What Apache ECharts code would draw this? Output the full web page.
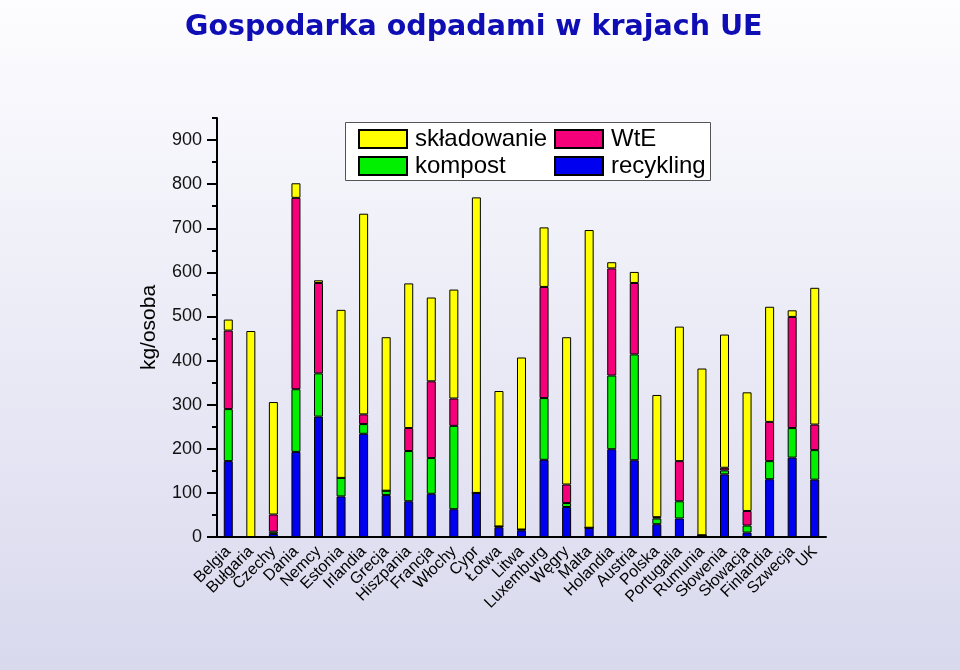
<!DOCTYPE html>
<html><head><meta charset="utf-8">
<script src="https://cdn.jsdelivr.net/npm/echarts@6/dist/echarts.min.js"></script>
<style>html,body{margin:0;padding:0;}#c{width:960px;height:670px;}</style>
</head><body><div id="c"></div>
<script>
var categories = ['Belgia','Bułgaria','Czechy','Dania','Nemcy','Estonia','Irlandia','Grecja','Hiszpania','Francja','Włochy','Cypr','Łotwa','Litwa','Luxemburg','Węgry','Malta','Holandia','Austria','Polska','Portugalia','Rumunia','Słowenia','Słowacja','Finlandia','Szwecja','UK'];
var recykling   = [172,0,7,193,273,92,234,95,81,98,63,100,22,15,175,68,21,199,174,29,42,4,142,10,131,180,130];
var kompost     = [118,0,5,142,98,42,22,10,114,81,189,0,2,2,140,9,0,167,240,13,39,0,9,16,41,67,67];
var wte         = [178,0,39,434,205,0,22,0,52,174,62,0,0,0,252,42,0,243,162,3,91,0,6,33,89,252,58];
var skladowanie = [25,467,255,33,6,381,455,348,328,190,247,670,307,390,135,334,675,14,25,277,305,378,302,269,261,15,310];
var majorTicks = [0,100,200,300,400,500,600,700,800,900];
var minorTicks = [50,150,250,350,450,550,650,750,850,950];

var FONT = "'Liberation Sans', Arial, sans-serif";
var chart = echarts.init(document.getElementById('c'));
function bar(name, data, color) {
  return {
    name: name, type: 'bar', stack: 'all', data: data, barWidth: 9,
    itemStyle: { color: color, borderColor: '#000', borderWidth: 1 },
    emphasis: { disabled: true }
  };
}
chart.setOption({
  animation: false,
  backgroundColor: {
    type: 'linear', x: 0, y: 0, x2: 0, y2: 1,
    colorStops: [{ offset: 0, color: '#fdfdff' }, { offset: 1, color: '#d9d9ee' }]
  },
  title: {
    text: 'Gospodarka odpadami w krajach UE', left: 180, top: 8,
    textStyle: { fontFamily: "'DejaVu Sans', Verdana, sans-serif", fontWeight: 'bold', fontSize: 28.5, color: '#0e0eb4' }
  },
  graphic: [{
    type: 'rect', left: 345, top: 122, z: 1,
    shape: { width: 365, height: 58 },
    style: { fill: '#ffffff', stroke: '#555', lineWidth: 1 }
  }],
  legend: [{
    orient: 'vertical', left: 353, top: 122, itemWidth: 48, itemHeight: 18, itemGap: 3, icon: 'rect',
    data: ['składowanie', 'kompost'], selectedMode: false, z: 5,
    textStyle: { fontFamily: FONT, fontSize: 24, color: '#000', padding: [0, 0, 0, 3] }
  }, {
    orient: 'vertical', left: 549, top: 122, itemWidth: 48, itemHeight: 18, itemGap: 3, icon: 'rect',
    data: ['WtE', 'recykling'], selectedMode: false, z: 5,
    textStyle: { fontFamily: FONT, fontSize: 24, color: '#000', padding: [0, 0, 0, 3] }
  }],
  grid: { left: 217, right: 134, top: 118, bottom: 133, containLabel: false },
  xAxis: {
    type: 'category', data: categories,
    axisLine: { lineStyle: { color: '#000', width: 2 } },
    axisTick: { alignWithLabel: true, length: 8, lineStyle: { color: '#000', width: 2 } },
    axisLabel: { rotate: 45, interval: 0, fontFamily: FONT, fontSize: 16, color: '#000', margin: 12 }
  },
  yAxis: [{
    type: 'value', min: 0, max: 950, position: 'left',
    name: 'kg/osoba', nameLocation: 'middle', nameGap: 57,
    nameTextStyle: { fontFamily: FONT, fontSize: 21, color: '#000' },
    axisLine: { show: true, lineStyle: { color: '#000', width: 2 } },
    axisTick: { show: true, length: 10, customValues: majorTicks, lineStyle: { color: '#000', width: 2 } },
    axisLabel: { customValues: majorTicks, fontFamily: FONT, fontSize: 18, color: '#111', margin: 15 },
    splitLine: { show: false }
  }, {
    type: 'value', min: 0, max: 950, position: 'left',
    axisLine: { show: false },
    axisTick: { show: true, length: 5, customValues: minorTicks, lineStyle: { color: '#000', width: 2 } },
    axisLabel: { show: false },
    splitLine: { show: false }
  }],
  series: [
    bar('recykling', recykling, '#0000f0'),
    bar('kompost', kompost, '#00f000'),
    bar('WtE', wte, '#f5007a'),
    bar('składowanie', skladowanie, '#ffff00')
  ]
});
</script></body></html>
